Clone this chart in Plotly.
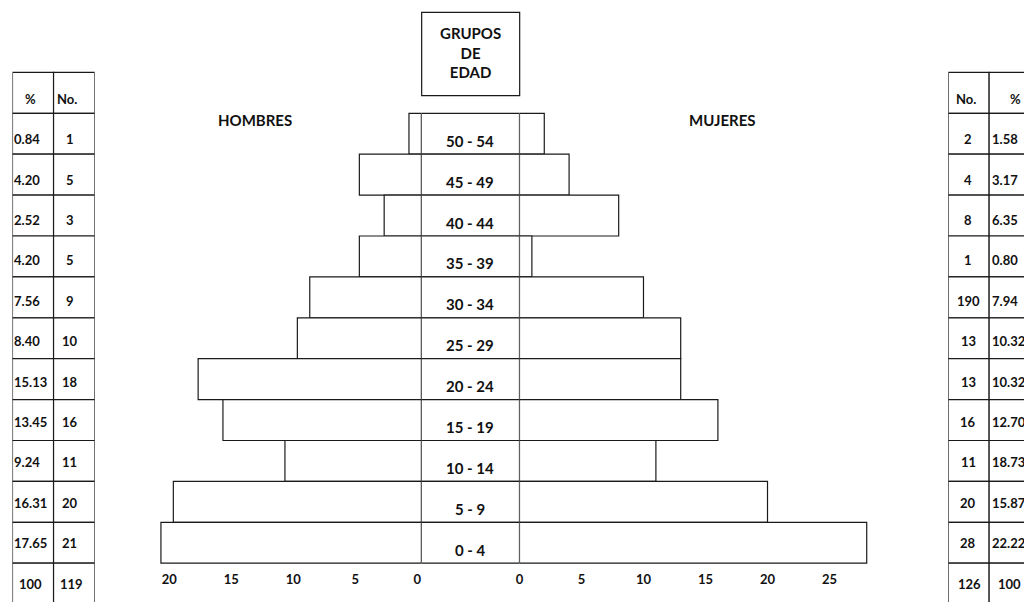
import plotly.graph_objects as go

# ---------------- data (top row first, as displayed) ----------------
groups = ["50 - 54", "45 - 49", "40 - 44", "35 - 39", "30 - 34", "25 - 29",
          "20 - 24", "15 - 19", "10 - 14", "5 - 9", "0 - 4"]
men_pct = ["0.84", "4.20", "2.52", "4.20", "7.56", "8.40",
           "15.13", "13.45", "9.24", "16.31", "17.65"]
men_no = [1, 5, 3, 5, 9, 10, 18, 16, 11, 20, 21]
women_no_label = ["2", "4", "8", "1", "190", "13", "13", "16", "11", "20", "28"]
women_pct = ["1.58", "3.17", "6.35", "0.80", "7.94", "10.32",
             "10.32", "12.70", "18.73", "15.87", "22.22"]
women_bar = [2, 4, 8, 1, 10, 13, 13, 16, 11, 20, 28]
men_total = ["100", "119"]
women_total = ["126", "100"]
men_ticks = [0, 5, 10, 15, 20]
women_ticks = [0, 5, 10, 15, 20, 25]
men_title = "HOMBRES"
women_title = "MUJERES"
center_title = "GRUPOS<br>DE<br>EDAD"
left_header = ["%", "No."]
right_header = ["No.", "%"]

# ---------------- layout constants (pixels) ----------------
W, H = 1024, 602
ROW_TOP, ROW_H = 113.3, 40.9
PX_PER_UNIT = 12.45
LINE = "#1a1a1a"
LW = 1.2
FONT = "Lato"
TXT = "#111111"

n = len(groups)
yidx = [n - 1 - i for i in range(n)]
y_lo = (n - 0.5) - (H - ROW_TOP) / ROW_H
y_hi = (n - 0.5) + ROW_TOP / ROW_H
axis_pos = (H - (ROW_TOP + n * ROW_H)) / H


def px(x):
    return x / W


def py(y):
    return (H - y) / H


men_zero, men_left = 419.0, 150.0
wom_zero, wom_right = 517.5, 880.0
men_max = (men_zero - men_left) / PX_PER_UNIT
wom_max = (wom_right - wom_zero) / PX_PER_UNIT

cell = dict(color="white", line=dict(color=LINE, width=LW))

fig = go.Figure()
# men bars
fig.add_trace(go.Bar(x=men_no, y=yidx, orientation="h", width=1, marker=cell,
                     xaxis="x", yaxis="y", hoverinfo="skip", showlegend=False))
# women bars
fig.add_trace(go.Bar(x=women_bar, y=yidx, orientation="h", width=1, marker=cell,
                     xaxis="x2", yaxis="y", hoverinfo="skip", showlegend=False))
# central age-group column
fig.add_trace(go.Bar(x=[1] * n, y=yidx, orientation="h", width=1, marker=cell,
                     xaxis="x3", yaxis="y", hoverinfo="skip", showlegend=False))
# side tables (header row, group rows, total row)
tab_y = [n] + yidx + [-1]
for base, ax in [(0, "x4"), (1, "x4"), (0, "x5"), (1, "x5")]:
    fig.add_trace(go.Bar(x=[1] * len(tab_y), y=tab_y, base=base, orientation="h",
                         width=1, marker=cell, xaxis=ax, yaxis="y",
                         hoverinfo="skip", showlegend=False))

bold = dict(family=FONT, size=13, color=TXT, weight="bold")
big = dict(family=FONT, size=15, color=TXT, weight="bold")

ann = []
# center labels
for g, v in zip(groups, yidx):
    ann.append(dict(xref="x3", x=0.5, yref="y", y=v, yshift=-7, text=g,
                    showarrow=False, font=big, xanchor="center", yanchor="middle"))


def tshift(v):
    return -6.0 * (v + 1) / (n + 1)


def tab_text(xp, v, t, anchor):
    ann.append(dict(xref="paper", x=px(xp), yref="y", y=v, yshift=tshift(v), text=t,
                    showarrow=False, font=bold, xanchor=anchor, yanchor="middle"))


# headers
tab_text(26.5, n, left_header[0], "center")
tab_text(63, n, left_header[1], "center")
tab_text(966, n, right_header[0], "center")
tab_text(1015, n, right_header[1], "center")
for i, v in enumerate(yidx):
    tab_text(8.5, v, men_pct[i], "left")
    tab_text(66, v, str(men_no[i]), "center")
    tab_text(968, v, women_no_label[i], "center")
    tab_text(990, v, women_pct[i], "left")
tab_text(27, -1, men_total[0], "center")
tab_text(67.5, -1, men_total[1], "center")
tab_text(969, -1, women_total[0], "center")
tab_text(1009.5, -1, women_total[1], "center")

# titles
ann.append(dict(xref="paper", yref="paper", x=px(252), y=py(120.3), text=men_title,
                showarrow=False, font=big, xanchor="center", yanchor="middle"))
ann.append(dict(xref="paper", yref="paper", x=px(721), y=py(120.3), text=women_title,
                showarrow=False, font=big, xanchor="center", yanchor="middle"))
ann.append(dict(xref="paper", yref="paper", x=px(468), y=py(52), text=center_title,
                showarrow=False, font=big, xanchor="center", yanchor="middle"))

shapes = [dict(type="rect", xref="paper", yref="paper",
               x0=px(419.3), x1=px(517.7), y0=py(95.7), y1=py(12.3),
               line=dict(color=LINE, width=LW), fillcolor="rgba(0,0,0,0)")]

tickax = dict(anchor="free", position=axis_pos, showgrid=False, zeroline=False,
              showline=False, ticks="outside", ticklen=4,
              tickcolor="rgba(0,0,0,0)", tickfont=bold, fixedrange=True)
hidden = dict(visible=False, anchor="y", fixedrange=True)

fig.update_layout(
    width=W, height=H, margin=dict(l=0, r=0, t=0, b=0),
    paper_bgcolor="white", plot_bgcolor="rgba(0,0,0,0)",
    barmode="overlay", showlegend=False,
    xaxis=dict(domain=[px(men_left), px(men_zero)], range=[men_max, 0],
               tickvals=men_ticks, ticklabelshift=4, **tickax),
    xaxis2=dict(domain=[px(wom_zero), px(wom_right)], range=[0, wom_max],
                tickvals=women_ticks, **tickax),
    xaxis3=dict(domain=[px(men_zero), px(wom_zero)], range=[0, 1], **hidden),
    xaxis4=dict(domain=[px(8.5), px(91)], range=[0, 2], **hidden),
    xaxis5=dict(domain=[px(948), 1], range=[0, (W - 948) / 41.0], **hidden),
    yaxis=dict(domain=[0, 1], range=[y_lo, y_hi], visible=False, fixedrange=True),
    annotations=ann, shapes=shapes,
)

fig.write_html("out.html", config={"displayModeBar": False})
